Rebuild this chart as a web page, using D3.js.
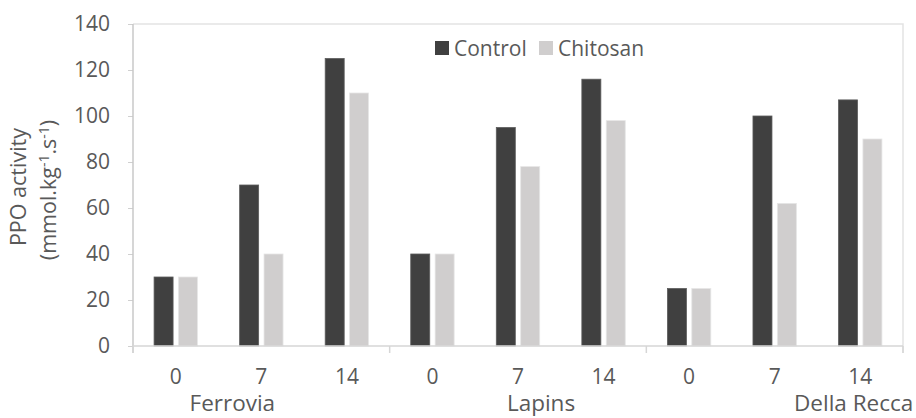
<!DOCTYPE html>
<html>
<head>
<meta charset="utf-8">
<script src="https://cdn.jsdelivr.net/npm/d3@7"></script>
<style>
  body { margin: 0; background: #fff; }
  svg text { font-family: "Open Sans", sans-serif; fill: #595959; }
</style>
</head>
<body>
<div id="chart"></div>
<script>
// data
const cultivars = ["Ferrovia", "Lapins", "Della Recca"];
const days = ["0", "7", "14"];
const seriesNames = ["Control", "Chitosan"];
const control = [30, 70, 125, 40, 95, 116, 25, 100, 107];
const chitosan = [30, 40, 110, 40, 78, 98, 25, 62, 90];
const yTicks = [0, 20, 40, 60, 80, 100, 120, 140];

const width = 916;
const height = 418;

// plot area
const plotLeft = 133, plotRight = 903, plotTop = 24, plotBottom = 346;

const colors = { Control: "#404040", Chitosan: "#d0cece" };
const fontSize = 21;

const svg = d3.select("#chart").append("svg")
  .attr("width", width)
  .attr("height", height);

// one row per bar slot (cultivar x day)
const rows = control.map((c, i) => ({
  i: i,
  day: days[i % 3],
  cultivar: cultivars[Math.floor(i / 3)],
  Control: c,
  Chitosan: chitosan[i]
}));

const x0 = d3.scaleBand()
  .domain(rows.map(d => d.i))
  .range([plotLeft, plotRight]);

const x1 = d3.scaleBand()
  .domain(seriesNames)
  .range([0, x0.bandwidth()])
  .paddingInner(0.221)
  .paddingOuter(0.864);

const y = d3.scaleLinear()
  .domain([0, 140])
  .range([plotBottom, plotTop]);

// plot border (top and right)
svg.append("path")
  .attr("d", `M${plotLeft},${plotTop}H${plotRight}V${plotBottom + 7}`)
  .attr("fill", "none")
  .attr("stroke", "#e3e3e3")
  .attr("stroke-width", 1.5);

// bars
const groups = svg.selectAll(".slot")
  .data(rows)
  .enter().append("g")
  .attr("class", "slot")
  .attr("transform", d => `translate(${x0(d.i)},0)`);

groups.selectAll("rect")
  .data(d => seriesNames.map(k => ({ key: k, value: d[k] })))
  .enter().append("rect")
  .attr("x", d => x1(d.key))
  .attr("width", x1.bandwidth())
  .attr("y", d => y(d.value))
  .attr("height", d => y(0) - y(d.value))
  .attr("fill", d => colors[d.key])
  .attr("stroke", d => d.key === "Control" ? "#5c5c5c" : "#e6e6e6")
  .attr("stroke-width", 0.8);

// y axis
const yAxis = svg.append("g")
  .attr("transform", `translate(${plotLeft},0)`)
  .call(d3.axisLeft(y).tickValues(yTicks).tickSize(5).tickPadding(18));
yAxis.select(".domain").remove();
yAxis.selectAll(".tick line").attr("stroke", "#d0d0d0");
yAxis.selectAll(".tick text")
  .style("font-size", fontSize + "px")
  .attr("fill", "#595959");
yAxis.append("line")
  .attr("y1", plotTop).attr("y2", plotBottom + 7)
  .attr("stroke", "#c8c8c8")
  .attr("stroke-width", 1.5);

// x axis line + group separators
svg.append("line")
  .attr("x1", plotLeft).attr("x2", plotRight)
  .attr("y1", plotBottom).attr("y2", plotBottom)
  .attr("stroke", "#d6d6d6")
  .attr("stroke-width", 1.5);

const bounds = [0, 3, 6].map(i => x0(i)).concat([x0.range()[1]]);
svg.selectAll(".sep")
  .data(bounds)
  .enter().append("line")
  .attr("class", "sep")
  .attr("x1", d => d).attr("x2", d => d)
  .attr("y1", plotBottom).attr("y2", plotBottom + 7)
  .attr("stroke", "#d6d6d6")
  .attr("stroke-width", 1.5);

// day labels
svg.selectAll(".day")
  .data(rows)
  .enter().append("text")
  .attr("class", "day")
  .attr("x", d => x0(d.i) + x0.bandwidth() / 2)
  .attr("y", 384)
  .attr("text-anchor", "middle")
  .style("font-size", fontSize + "px")
  .text(d => d.day);

// cultivar labels (Excel shifts these, so offsets are per label)
const cultivarShift = [-29, 23, 79];
svg.selectAll(".cultivar")
  .data(cultivars)
  .enter().append("text")
  .attr("class", "cultivar")
  .attr("x", (d, i) => (x0(i * 3) + (i < 2 ? x0(i * 3 + 3) : plotRight)) / 2 + cultivarShift[i])
  .attr("y", 411)
  .attr("text-anchor", "middle")
  .style("font-size", "22.5px")
  .text(d => d);

// y axis title, two lines
const yTitle = svg.append("text")
  .attr("transform", "translate(26,187) rotate(-90)")
  .attr("text-anchor", "middle")
  .style("font-size", "21.5px");
yTitle.append("tspan").attr("x", 0).attr("dy", 0).text("PPO activity");

const yTitle2 = svg.append("text")
  .attr("transform", "translate(56,190) rotate(-90)")
  .attr("text-anchor", "middle")
  .style("font-size", "21.5px");
yTitle2.append("tspan").text("(mmol.kg");
yTitle2.append("tspan").attr("dy", -7).style("font-size", "14px").text("-1");
yTitle2.append("tspan").attr("dy", 7).text(".s");
yTitle2.append("tspan").attr("dy", -7).style("font-size", "14px").text("-1");
yTitle2.append("tspan").attr("dy", 7).text(")");

// legend
const legendX = [435, 539];
const legend = svg.selectAll(".legend")
  .data(seriesNames)
  .enter().append("g")
  .attr("class", "legend")
  .attr("transform", (d, i) => `translate(${legendX[i]}, 41)`);

legend.append("rect")
  .attr("width", 14)
  .attr("height", 14)
  .attr("fill", d => colors[d]);

legend.append("text")
  .attr("x", 19)
  .attr("y", 14.5)
  .style("font-size", fontSize + "px")
  .text(d => d);
</script>
</body>
</html>
